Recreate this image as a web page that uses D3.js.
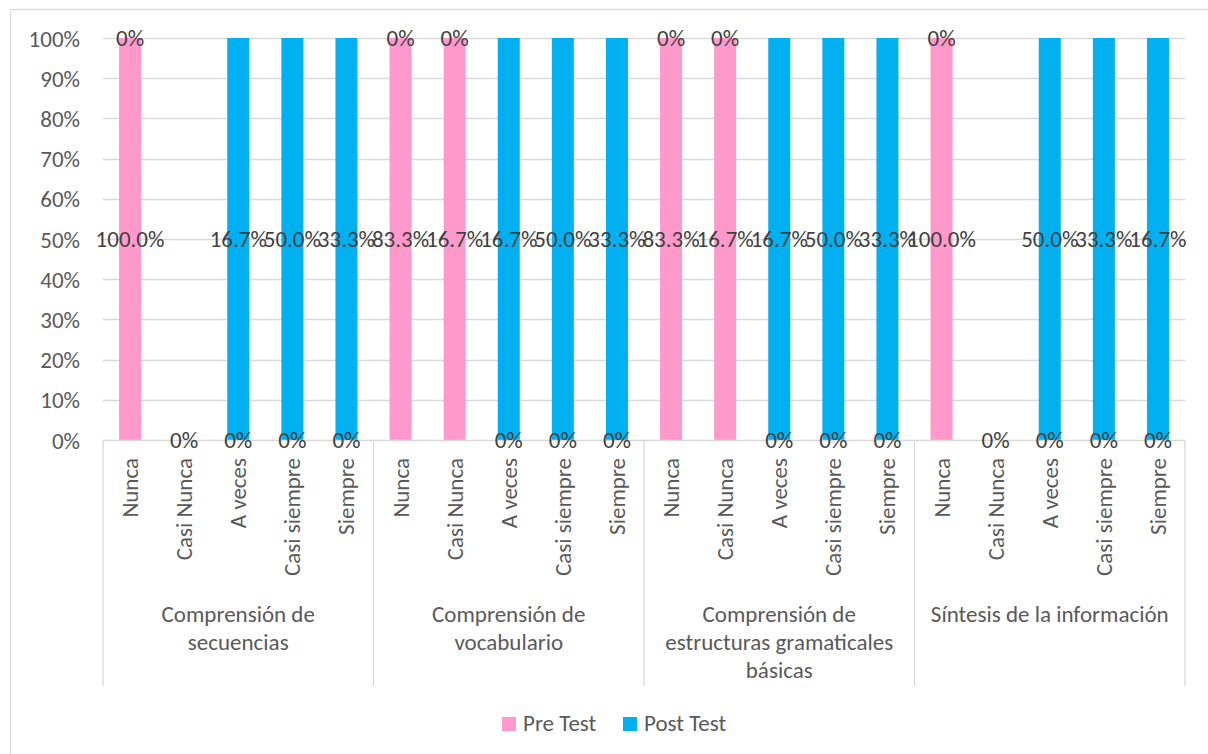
<!DOCTYPE html>
<html><head><meta charset="utf-8">
<script src="https://cdn.jsdelivr.net/npm/d3@7"></script>
<style>
body{margin:0;background:#fff;}
text{font-family:Carlito,Calibri,Lato,"Liberation Sans",sans-serif;}
</style></head>
<body><svg id="c" width="1208" height="754"></svg>
<script>
const groups = ["Comprensión de secuencias","Comprensión de vocabulario","Comprensión de estructuras gramaticales básicas","Síntesis de la información"];
const groupLines = [["Comprensión de","secuencias"],["Comprensión de","vocabulario"],["Comprensión de","estructuras gramaticales","básicas"],["Síntesis de la información"]];
const levels = ["Nunca","Casi Nunca","A veces","Casi siempre","Siempre"];
const preTest = [
  [100.0, 0, 0, 0, 0],
  [83.3, 16.7, 0, 0, 0],
  [83.3, 16.7, 0, 0, 0],
  [100.0, 0, 0, 0, 0]
];
const postTest = [
  [0, 0, 16.7, 50.0, 33.3],
  [0, 0, 16.7, 50.0, 33.3],
  [0, 0, 16.7, 50.0, 33.3],
  [0, 0, 50.0, 33.3, 16.7]
];
const yTicks = [0,0.1,0.2,0.3,0.4,0.5,0.6,0.7,0.8,0.9,1.0];
const seriesNames = ["Pre Test","Post Test"];
const colors = ["#FF99CC","#00B0F0"];

const FS = 23;
const svg = d3.select("#c");
const L = 103, R = 1185, T = 38, B = 440;
const grid = "#D9D9D9";

svg.append("rect").attr("x",10.5).attr("y",9.5).attr("width",1220).attr("height",770)
  .attr("fill","none").attr("stroke",grid).attr("stroke-width",1.3);

const x0 = d3.scaleBand().domain(groups).range([L,R]).padding(0);
const p = 1 - 22/54.1;
const x1 = d3.scaleBand().domain(levels).range([0,x0.bandwidth()]).paddingInner(p).paddingOuter(p/2);
const y = d3.scaleLinear().domain([0,1]).range([B,T]);

// gridlines
svg.append("g").selectAll("line").data(yTicks.filter(t=>t>0)).join("line")
  .attr("x1",L).attr("x2",R).attr("y1",d=>Math.round(y(d))+0.5).attr("y2",d=>Math.round(y(d))+0.5)
  .attr("stroke",grid).attr("stroke-width",1.3);

// y axis labels
const yAxis = d3.axisLeft(y).tickValues(yTicks).tickFormat(d3.format(".0%")).tickSize(0).tickPadding(0);
const ya = svg.append("g").attr("transform",`translate(${L-23},0)`).call(yAxis);
ya.select(".domain").remove();
ya.selectAll("text").attr("font-size",FS).attr("fill","#595959").attr("font-family",null).attr("dy","0.35em");

// build data
const rows = [];
groups.forEach((g,gi)=>levels.forEach((l,li)=>{
  const a = preTest[gi][li], b = postTest[gi][li], tot = a+b;
  const fa = tot? a/tot : 0, fb = tot? b/tot : 0;
  rows.push({g,l,vals:[a,b],segs:[[0,fa],[fa,fa+fb]],tot});
}));

// bars
rows.forEach(r=>{
  const bx = x0(r.g)+x1(r.l);
  r.segs.forEach((s,si)=>{
    if (s[1]-s[0] <= 0) return;
    svg.append("rect").attr("x",bx).attr("width",x1.bandwidth())
      .attr("y",y(s[1])).attr("height",y(s[0])-y(s[1])).attr("fill",colors[si]);
  });
});

// axis baseline and separators
svg.append("line").attr("x1",L).attr("x2",R).attr("y1",B+0.5).attr("y2",B+0.5).attr("stroke",grid).attr("stroke-width",1.3);
const seps = groups.map(g=>x0(g)).concat([R]);
svg.append("g").selectAll("line").data(seps).join("line")
  .attr("x1",d=>d).attr("x2",d=>d).attr("y1",B).attr("y2",686)
  .attr("stroke",grid).attr("stroke-width",1.3);

// data labels
const fmt = v => v===0 ? "0%" : d3.format(".1f")(v)+"%";
rows.forEach(r=>{
  const cx = x0(r.g)+x1(r.l)+x1.bandwidth()/2;
  r.segs.forEach((s,si)=>{
    if (r.tot===0 && si===1) return; // overlapping identical label
    svg.append("text").attr("x",cx).attr("y",y((s[0]+s[1])/2)+3)
      .attr("text-anchor","middle").attr("dominant-baseline","middle")
      .attr("font-size",FS).attr("fill","#404040").text(fmt(r.vals[si]));
  });
});

// category labels (rotated)
rows.forEach(r=>{
  const cx = x0(r.g)+x1(r.l)+x1.bandwidth()/2;
  svg.append("text").attr("transform",`translate(${cx+8},458) rotate(-90)`)
    .attr("text-anchor","end").attr("font-size",FS).attr("fill","#595959").text(r.l);
});

// group labels
groups.forEach((g,gi)=>{
  const cx = x0(g)+x0.bandwidth()/2;
  groupLines[gi].forEach((ln,li)=>{
    svg.append("text").attr("x",cx).attr("y",622+li*28).attr("text-anchor","middle")
      .attr("font-size",FS).attr("fill","#595959").text(ln);
  });
});

// legend
const lg = svg.append("g");
const items = [{n:seriesNames[0],c:colors[0],x:502},{n:seriesNames[1],c:colors[1],x:623}];
items.forEach(it=>{
  lg.append("rect").attr("x",it.x).attr("y",717).attr("width",14).attr("height",14).attr("fill",it.c);
  lg.append("text").attr("x",it.x+21).attr("y",731).attr("font-size",FS).attr("fill","#595959").text(it.n);
});
</script></body></html>
